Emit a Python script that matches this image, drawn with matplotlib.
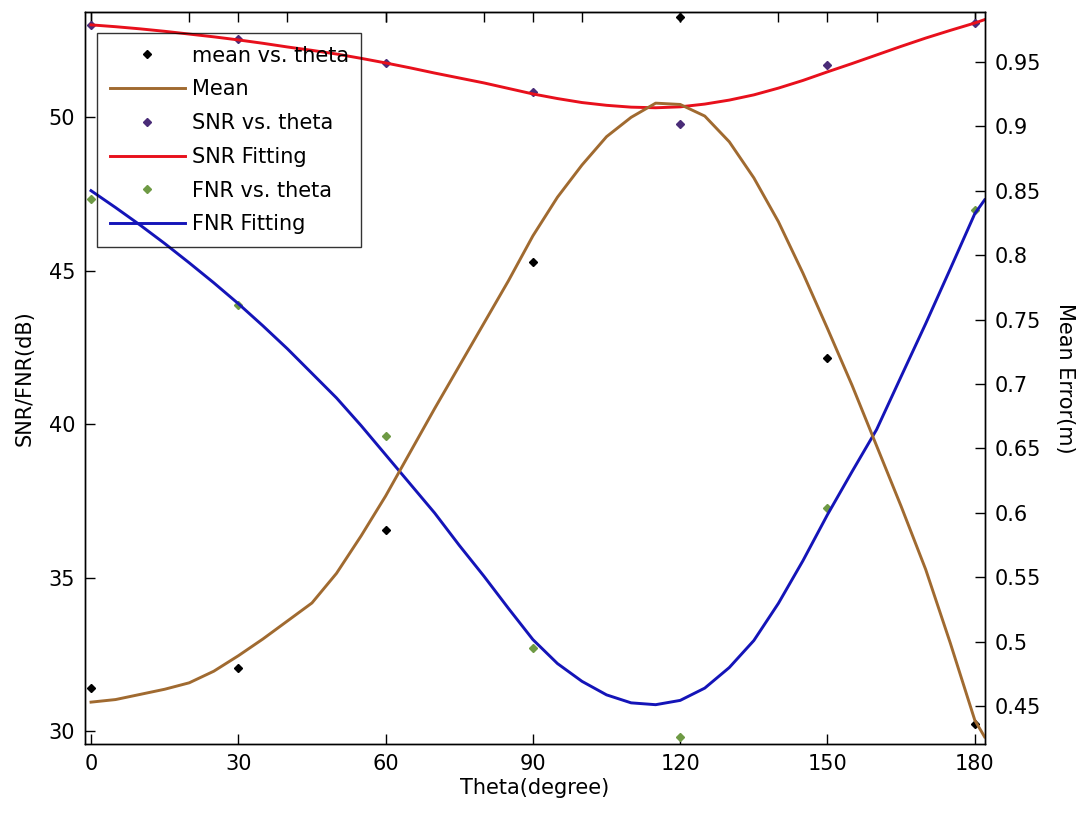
import numpy as np
from matplotlib import pyplot as plt

#measured points
theta = [0, 30, 60, 90, 120, 150, 180]
mean_err = [0.464, 0.4795, 0.5866, 0.7947, 0.985, 0.720, 0.436]
snr = [53.0, 52.54, 51.76, 50.81, 49.77, 51.69, 53.06]
fnr = [47.33, 43.88, 39.61, 32.72, 29.80, 37.26, 46.97]

#fitted curves (every 5 degrees)
fit_theta = [0, 5, 10, 15, 20, 25, 30, 35, 40, 45, 50, 55, 60, 65, 70, 75, 80, 85, 90,
             95, 100, 105, 110, 115, 120, 125, 130, 135, 140, 145, 150, 155, 160, 165,
             170, 175, 180, 182]
mean_fit = [0.453, 0.455, 0.459, 0.463, 0.468, 0.477, 0.489, 0.502, 0.516, 0.530,
            0.553, 0.582, 0.613, 0.647, 0.681, 0.714, 0.747, 0.780, 0.815, 0.845,
            0.870, 0.892, 0.907, 0.918, 0.917, 0.908, 0.888, 0.860, 0.826, 0.786,
            0.743, 0.699, 0.652, 0.605, 0.556, 0.499, 0.439, 0.426]
snr_fit = [53.00, 52.94, 52.87, 52.79, 52.70, 52.61, 52.51, 52.40, 52.28, 52.17,
           52.05, 51.91, 51.76, 51.60, 51.43, 51.27, 51.11, 50.93, 50.75, 50.60,
           50.47, 50.38, 50.32, 50.30, 50.33, 50.42, 50.55, 50.72, 50.94, 51.19,
           51.47, 51.74, 52.02, 52.30, 52.57, 52.82, 53.06, 53.17]
fnr_fit = [47.60, 47.05, 46.48, 45.88, 45.25, 44.60, 43.92, 43.20, 42.45, 41.65,
           40.85, 39.95, 39.00, 38.05, 37.10, 36.05, 35.05, 34.00, 32.98, 32.20,
           31.62, 31.18, 30.92, 30.86, 31.00, 31.40, 32.07, 32.95, 34.16, 35.55,
           37.05, 38.45, 39.82, 41.55, 43.27, 45.05, 46.85, 47.30]

left_ticks = [30, 35, 40, 45, 50]
right_ticks = [0.45, 0.5, 0.55, 0.6, 0.65, 0.7, 0.75, 0.8, 0.85, 0.9, 0.95]
x_ticks = [0, 30, 60, 90, 120, 150, 180]

plt.rcParams['font.family'] = 'DejaVu Sans'
plt.rcParams['font.size'] = 15

fig = plt.figure(figsize=(10.86, 8.14), dpi=100)
ax = fig.add_axes([0.0783, 0.086, 0.8287, 0.8993])
ax2 = ax.twinx()

brown = '#A06A30'
red = '#E8101C'
blue = '#1414B8'
green = '#6E9A44'
purple = '#4A2C78'

h1, = ax2.plot(theta, mean_err, linestyle='none', marker='D', markersize=4, color='black')
h2, = ax2.plot(fit_theta, mean_fit, color=brown, linewidth=2.1)
h3, = ax.plot(theta, snr, linestyle='none', marker='D', markersize=4, color=purple)
h4, = ax.plot(fit_theta, snr_fit, color=red, linewidth=2.1)
h5, = ax.plot(theta, fnr, linestyle='none', marker='D', markersize=4, color=green)
h6, = ax.plot(fit_theta, fnr_fit, color=blue, linewidth=2.1)

ax.set_xlim(-1.22, 182.08)
ax.set_ylim(29.58, 53.42)
ax2.set_ylim(0.4205, 0.9888)

ax.set_xticks(x_ticks)
ax.set_yticks(left_ticks)
ax.set_yticklabels([str(v) for v in left_ticks])
ax2.set_yticks(right_ticks)
ax2.set_yticklabels([('%g' % v) for v in right_ticks])

ax.tick_params(axis='both', direction='in', length=7, width=1, pad=7, top=True)
ax2.tick_params(axis='y', direction='in', length=7, width=1, pad=7)

#extra ticks on top every 20 degrees
top = ax.secondary_xaxis('top')
top.set_xticks(range(0, 181, 20))
top.tick_params(direction='in', length=7, width=1, labeltop=False)

ax.set_xlabel('Theta(degree)', labelpad=3)
ax.set_ylabel('SNR/FNR(dB)', labelpad=10)
ax2.set_ylabel('Mean Error(m)', rotation=-90, labelpad=24)

for a in (ax, ax2):
    for s in a.spines.values():
        s.set_linewidth(1)

leg = ax2.legend([h1, h2, h3, h4, h5, h6],
                 ['mean vs. theta', 'Mean', 'SNR vs. theta', 'SNR Fitting',
                  'FNR vs. theta', 'FNR Fitting'],
                 loc='upper left', bbox_to_anchor=(0.0133, 0.971), borderaxespad=0,
                 numpoints=1, handlelength=3.6, handletextpad=0.35, labelspacing=0.66,
                 fancybox=False, edgecolor='black', fontsize=15, borderpad=0.6)
leg.get_frame().set_facecolor('none')
leg.get_frame().set_linewidth(1)

plt.savefig('out.png', dpi=100)
